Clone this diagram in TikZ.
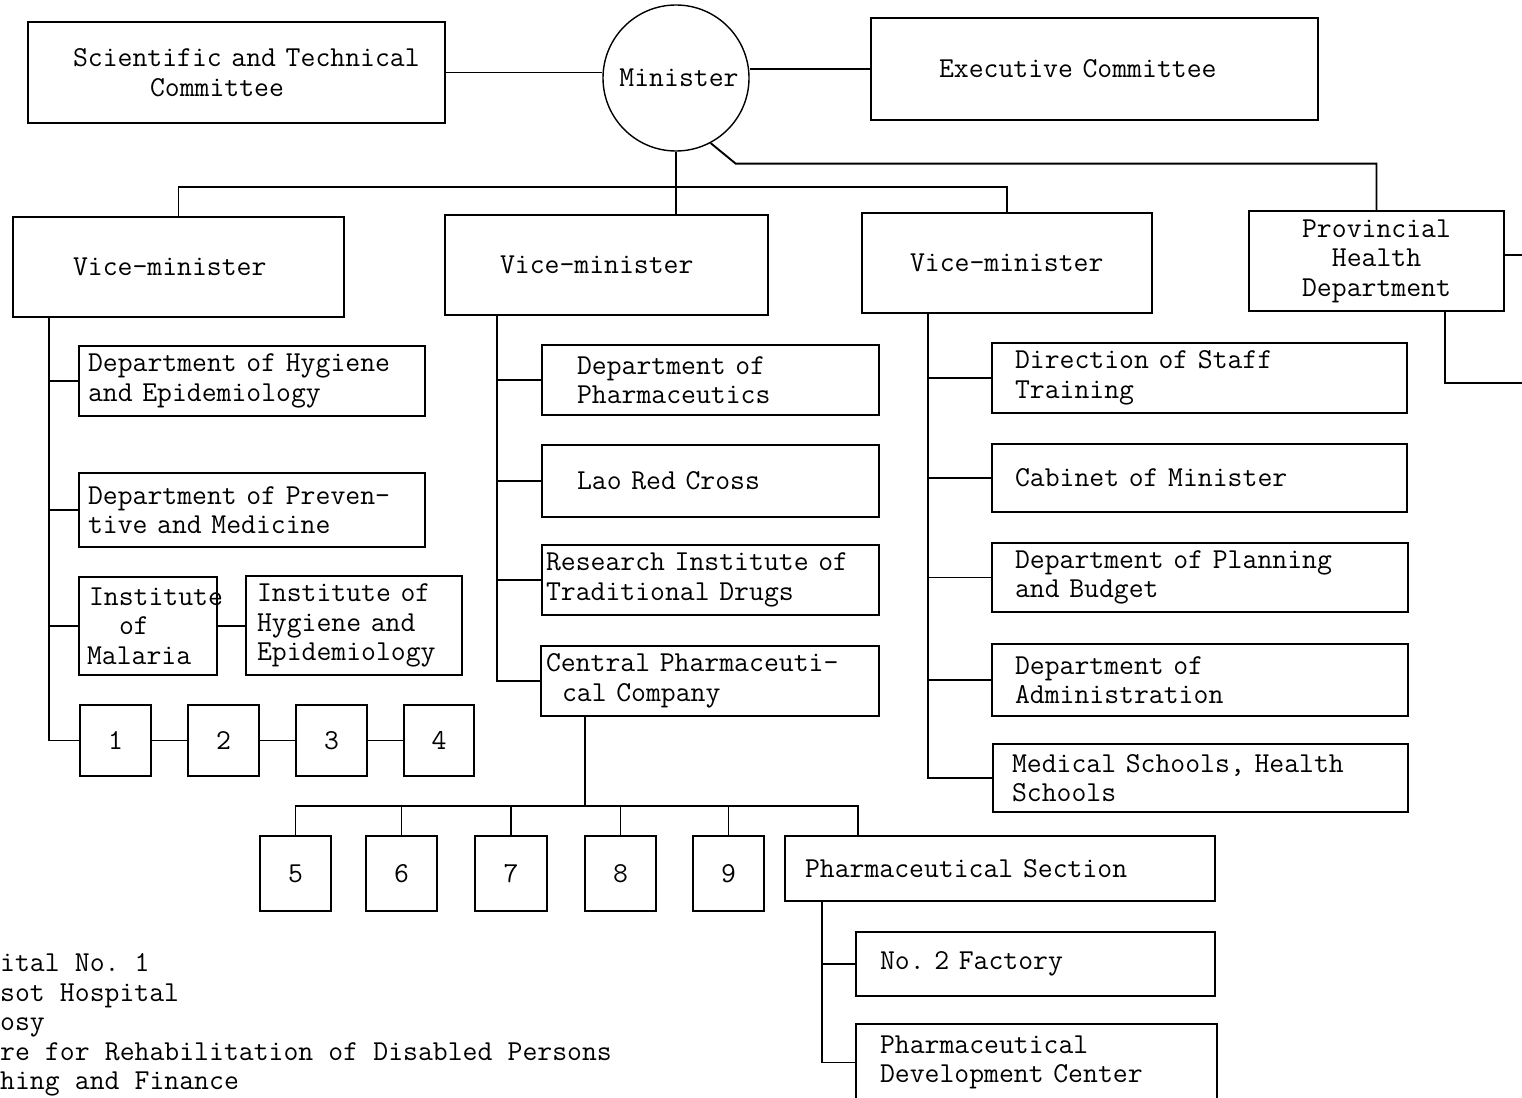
\documentclass[tikz,border=0pt]{standalone}
\usepackage{fontspec}
\hyphenpenalty=10000
\exhyphenpenalty=10000
\frenchspacing
\newcommand\myhs[1]{\hspace*{#1pt}}
\newcommand\myfont{\ttfamily\fontsize{28.9pt}{29.5pt}\selectfont\frenchspacing
  \fontdimen2\font=15.17pt\fontdimen3\font=0pt\fontdimen4\font=0pt\fontdimen7\font=0pt}
\begin{document}
\begin{tikzpicture}[x=1pt,y=-1pt,
  font=\myfont,
  bx/.style={draw, rectangle, line width=1.9pt, inner xsep=0pt, inner ysep=0pt, align=left},
  cbx/.style={draw, rectangle, line width=1.9pt, inner sep=0pt, align=center},
  ln/.style={line width=1.9pt}]
\clip (0,0) rectangle (1522,1097);
\fill[white] (0,0) rectangle (1522,1097);

% top row
\node[bx, text width=417pt, minimum height=101pt] (sci) at (236.5,72.5)
  {\myhs{45}Scientific and Technical\\\myhs{122}Committee};
\node[draw, circle, line width=1.4pt, minimum size=146pt, inner sep=0pt] (min) at (676,78) {\myhs{6}Minister};
\node[bx, text width=447pt, minimum height=102pt] (ex) at (1094.5,69)
  {\myhs{68}Executive Committee};

% vice-ministers
\node[bx, text width=331pt, minimum height=100pt] (vm1) at (178.5,267) {\myhs{60}Vice-minister};
\node[bx, text width=323pt, minimum height=100pt] (vm2) at (606.5,265) {\myhs{55}Vice-minister};
\node[bx, text width=290pt, minimum height=100pt] (vm3) at (1007,263) {\myhs{48}Vice-minister};
\node[cbx, text width=255pt, minimum height=100pt] (prov) at (1376.5,261) {Provincial\\Health\\Department};

% column 1
\node[bx, text width=346pt, minimum height=70pt] (dh) at (252,381)
  {\myhs{9}Department of Hygiene\\\myhs{9}and Epidemiology};
\node[bx, text width=346pt, minimum height=74pt] (dp) at (252,510)
  {\myhs{9}Department of Preven-\\\myhs{9}tive and Medicine};
\node[bx, text width=138pt, minimum height=98pt] (im) at (148,626)
  {\myhs{10}Institute\\\myhs{40}of\\\myhs{8}Malaria};
\node[bx, text width=216pt, minimum height=99pt] (ih) at (354,625.5)
  {\myhs{11}Institute of\\\myhs{11}Hygiene and\\\myhs{11}Epidemiology};
\node[cbx, minimum width=71pt, minimum height=71pt] (n1) at (115.5,740.5) {1};
\node[cbx, minimum width=71pt, minimum height=71pt] (n2) at (223.5,740.5) {2};
\node[cbx, minimum width=71pt, minimum height=71pt] (n3) at (331.5,740.5) {3};
\node[cbx, minimum width=70pt, minimum height=71pt] (n4) at (439,740.5) {4};

% column 2
\node[bx, text width=337pt, minimum height=70pt] (ph) at (710.5,380)
  {\myhs{35}Department of\\\myhs{35}Pharmaceutics};
\node[bx, text width=337pt, minimum height=72pt] (lrc) at (710.5,481)
  {\myhs{35}Lao Red Cross};
\node[bx, text width=337pt, minimum height=70pt] (ri) at (710.5,580)
  {\myhs{4}Research Institute of\\\myhs{4}Traditional Drugs};
\node[bx, text width=338pt, minimum height=70pt] (cpc) at (710,681)
  {\myhs{5}Central Pharmaceuti-\\\myhs{21}cal Company};

% under central pharmaceutical company
\node[cbx, minimum width=71pt, minimum height=75pt] (b5) at (295.5,873.5) {5};
\node[cbx, minimum width=71pt, minimum height=75pt] (b6) at (401.5,873.5) {6};
\node[cbx, minimum width=72pt, minimum height=75pt] (b7) at (511,873.5) {7};
\node[cbx, minimum width=71pt, minimum height=75pt] (b8) at (620.5,873.5) {8};
\node[cbx, minimum width=71pt, minimum height=75pt] (b9) at (728.5,873.5) {9};
\node[bx, text width=430pt, minimum height=65pt] (ps) at (1000,868.5)
  {\myhs{20}Pharmaceutical Section};
\node[bx, text width=359pt, minimum height=64pt] (f2) at (1035.5,964)
  {\myhs{24}No. 2 Factory};
\node[bx, text width=361pt, minimum height=77pt] (pdc) at (1036.5,1062.5)
  {\myhs{24}Pharmaceutical\\\myhs{24}Development Center};

% column 3
\node[bx, text width=415pt, minimum height=70pt] (ds) at (1199.5,378)
  {\myhs{23}Direction of Staff\\\myhs{23}Training};
\node[bx, text width=415pt, minimum height=68pt] (cm) at (1199.5,478)
  {\myhs{23}Cabinet of Minister};
\node[bx, text width=416pt, minimum height=69pt] (pb) at (1200,577.5)
  {\myhs{23}Department of Planning\\\myhs{23}and Budget};
\node[bx, text width=416pt, minimum height=72pt] (ad) at (1200,680)
  {\myhs{23}Department of\\\myhs{23}Administration};
\node[bx, text width=415pt, minimum height=68pt] (ms) at (1200.5,778)
  {\myhs{19}Medical Schools, Health\\\myhs{19}Schools};

% legend (cut at left edge)
\node[anchor=west, align=left, inner sep=0pt] (leg) at (0,1025)
  {ital No. 1\\sot Hospital\\osy\\re for Rehabilitation of Disabled Persons\\hing and Finance};

% coordinates
\coordinate (bus) at (676,187);
\coordinate (t1) at (49,740.5);
\coordinate (t2) at (497,681);
\coordinate (t3) at (928,778);
\coordinate (bus2) at (585,806);
\coordinate (psd) at (858,806);
\coordinate (t4) at (822,1062.5);
\coordinate (pe1) at (1530,255);
\coordinate (pe2) at (1530,383);

% connectors top
\draw[ln] (sci.east) -- (sci.east -| min.west);
\draw[ln] (ex.west -| min.east) -- (ex.west);
\draw[ln] (min.south) -- (min.south |- vm2.north);
\draw[ln] (vm1.north) |- (bus) -| (vm3.north);
\draw[ln] (min.-62) -- ++(25,20.5) -| (prov.north);
\draw[ln] (prov.east |- pe1) -- (pe1);
\draw[ln] (prov.south east) ++(-60,0) |- (pe2);

% column 1 connectors
\draw[ln] (vm1.south -| t1) |- (n1.west);
\draw[ln] (t1 |- dh.west) -- (dh.west);
\draw[ln] (t1 |- dp.west) -- (dp.west);
\draw[ln] (t1 |- im.west) -- (im.west);
\draw[ln] (im.east) -- (im.east -| ih.west);
\draw[ln] (n1.east) -- (n2.west);
\draw[ln] (n2.east) -- (n3.west);
\draw[ln] (n3.east) -- (n4.west);

% column 2 connectors
\draw[ln] (vm2.south -| t2) |- (cpc.west);
\draw[ln] (t2 |- ph.west) -- (ph.west);
\draw[ln] (t2 |- lrc.west) -- (lrc.west);
\draw[ln] (t2 |- ri.west) -- (ri.west);
\draw[ln] (cpc.south -| bus2) -- (bus2);
\draw[ln] (b5.north) |- (psd) -- (psd |- ps.north);
\draw[ln] (b6.north) -- (b6.north |- bus2);
\draw[ln] (b7.north) -- (b7.north |- bus2);
\draw[ln] (b8.north) -- (b8.north |- bus2);
\draw[ln] (b9.north) -- (b9.north |- bus2);
\draw[ln] (ps.south -| t4) |- (pdc.west);
\draw[ln] (t4 |- f2.west) -- (f2.west);

% column 3 connectors
\draw[ln] (vm3.south -| t3) |- (ms.west);
\draw[ln] (t3 |- ds.west) -- (ds.west);
\draw[ln] (t3 |- cm.west) -- (cm.west);
\draw[ln] (t3 |- pb.west) -- (pb.west);
\draw[ln] (t3 |- ad.west) -- (ad.west);
\end{tikzpicture}
\end{document}
